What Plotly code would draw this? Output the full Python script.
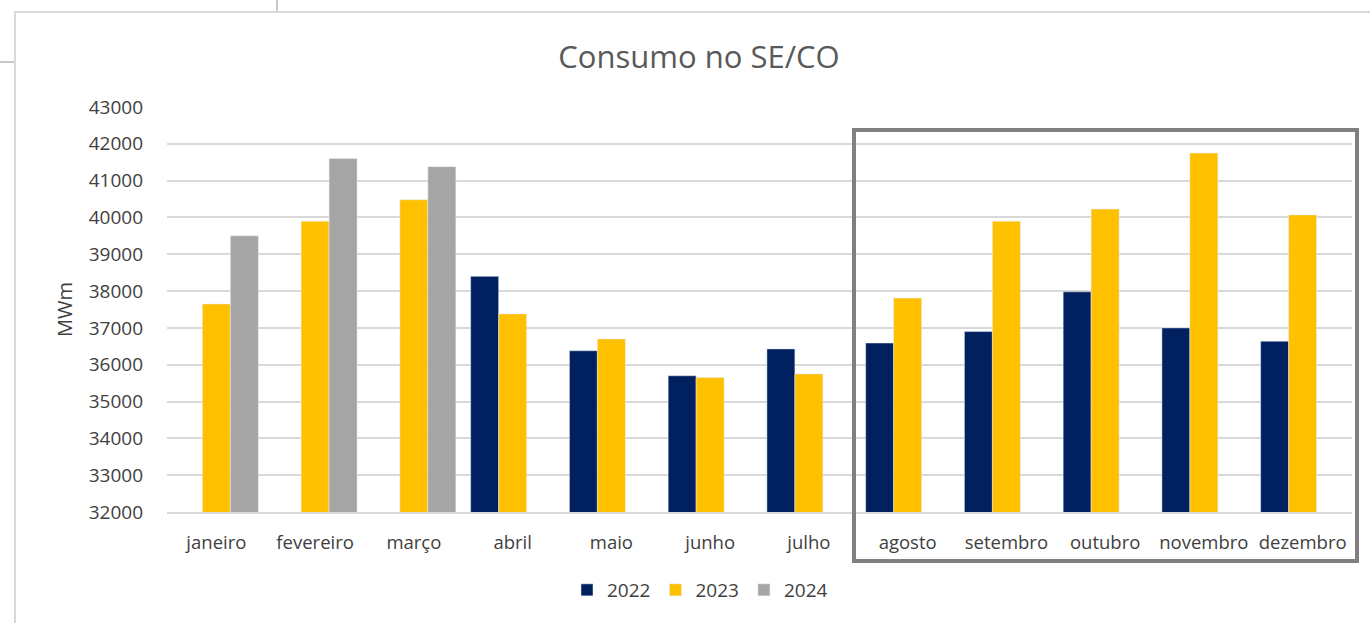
import plotly.graph_objects as go

# Monthly consumption in the SE/CO subsystem (MWm)
months = ["janeiro", "fevereiro", "março", "abril", "maio", "junho", "julho",
          "agosto", "setembro", "outubro", "novembro", "dezembro"]
consumo_2022 = [None, None, None, 38400, 36380, 35700, 36430,
                36590, 36900, 37980, 37000, 36640]
consumo_2023 = [37650, 39900, 40480, 37380, 36700, 35650, 35750,
                37810, 39900, 40230, 41750, 40070]
consumo_2024 = [39500, 41600, 41380, None, None, None, None,
                None, None, None, None, None]
y_ticks = list(range(32000, 43001, 1000))

W, H = 1370, 623
L, R, T, B = 167, 18, 107, 111
plot_w = W - L - R
plot_h = H - T - B


def px(x):
    return (x - L) / plot_w


def py(y):
    return (H - B - y) / plot_h


font_family = "Open Sans, Noto Sans, sans-serif"
tick_color = "#404040"

fig = go.Figure()
fig.add_bar(name="2022", x=months, y=consumo_2022, marker_color="#002060")
fig.add_bar(name="2023", x=months, y=consumo_2023, marker_color="#FFC000")
fig.add_bar(name="2024", x=months, y=consumo_2024, marker_color="#A5A5A5")

fig.update_layout(
    width=W, height=H,
    margin=dict(l=L, r=R, t=T, b=B, pad=0),
    paper_bgcolor="white", plot_bgcolor="white",
    barmode="group", bargap=0.15, bargroupgap=0,
    font=dict(family=font_family, color=tick_color),
    title=dict(text="Consumo no SE/CO", x=699 / W, xref="container",
               xanchor="center", y=1 - 57 / H, yref="container",
               yanchor="middle",
               font=dict(size=31, color="#595959", family=font_family)),
    legend=dict(orientation="h", x=px(700), xanchor="center",
                y=py(590), yanchor="middle",
                font=dict(size=19, color=tick_color),
                itemwidth=30, traceorder="normal"),
    showlegend=True,
)

fig.update_yaxes(
    range=[32000, 43000], tickvals=y_ticks, tickformat="d",
    showgrid=True, gridcolor="#d9d9d9", gridwidth=2,
    zeroline=False, showline=False,
    tickfont=dict(size=19, color=tick_color),
    ticklabelstandoff=23,
    title=dict(text="MWm", font=dict(size=20, color=tick_color), standoff=10),
)
fig.update_xaxes(
    showgrid=False, showline=True, linecolor="#d9d9d9", linewidth=2,
    tickfont=dict(size=18.5, color=tick_color),
    ticklabelstandoff=13,
)

shapes = [
    # outer chart frame
    dict(type="rect", xref="paper", yref="paper",
         x0=px(15), x1=px(W + 20), y0=py(H + 20), y1=py(12),
         line=dict(color="#d9d9d9", width=2), layer="below"),
    # small sheet borders around the frame
    dict(type="line", xref="paper", yref="paper",
         x0=px(277), x1=px(277), y0=py(0), y1=py(11),
         line=dict(color="#c8c8c8", width=2)),
    dict(type="line", xref="paper", yref="paper",
         x0=px(0), x1=px(14), y0=py(62), y1=py(62),
         line=dict(color="#c8c8c8", width=2)),
    # highlight box for agosto–dezembro
    dict(type="rect", xref="paper", yref="paper",
         x0=px(854), x1=px(1357), y0=py(561), y1=py(130),
         line=dict(color="#808080", width=4)),
]
fig.update_layout(shapes=shapes)

fig.write_html("out.html")
